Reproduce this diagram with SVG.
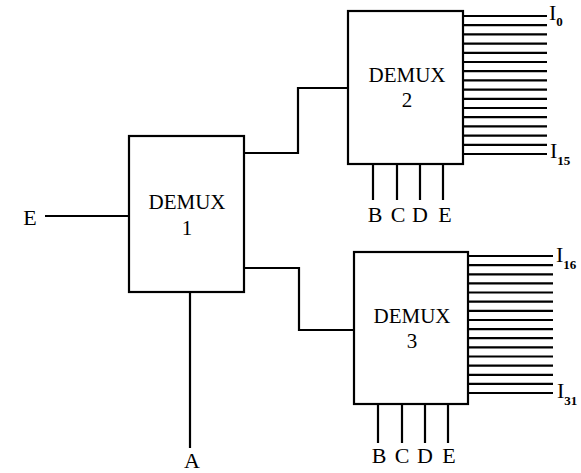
<svg xmlns="http://www.w3.org/2000/svg" width="581" height="473" viewBox="0 0 581 473">
<style>
.box{fill:#fff;stroke:#000;stroke-width:2.2}
.w{stroke:#000;stroke-width:2.2;fill:none}
.t{font-family:"Liberation Serif","DejaVu Serif",serif;font-size:21px;fill:#000;text-anchor:middle}
.p{font-family:"Liberation Serif","DejaVu Serif",serif;font-size:22px;fill:#000;text-anchor:middle}
.l{font-family:"Liberation Serif","DejaVu Serif",serif;font-size:22px;fill:#000}
.s{font-size:13px;font-weight:bold}
</style>
<rect width="581" height="473" fill="#fff"/>
<g id="connectors">
<path class="w" d="M45 216H129"/>
<path class="w" d="M190 292V448"/>
<path class="w" d="M244 153H298V88H348"/>
<path class="w" d="M244 268H299V330H354"/>
<path class="w" d="M463 16H547M463 25.2H547M463 34.4H547M463 43.6H547M463 52.8H547M463 62H547M463 71.2H547M463 80.4H547M463 89.6H547M463 98.8H547M463 108H547M463 117.2H547M463 126.4H547M463 135.6H547M463 144.8H547M463 154H547"/>
<path class="w" d="M468 256H553M468 265.1H553M468 274.3H553M468 283.4H553M468 292.5H553M468 301.7H553M468 310.8H553M468 320H553M468 329.1H553M468 338.2H553M468 347.4H553M468 356.5H553M468 365.6H553M468 374.8H553M468 383.9H553M468 393H553"/>
<path class="w" d="M373 164V200M397 164V200M420 164V200M443 164V200"/>
<path class="w" d="M378 404V443M402 404V443M425 404V443M448 404V443"/>
</g>
<g id="demux1">
<rect class="box" x="129" y="136" width="115" height="156"/>
<text class="t" x="187" y="209">DEMUX</text>
<text class="t" x="187" y="235">1</text>
</g>
<g id="demux2">
<rect class="box" x="348" y="11" width="115" height="153"/>
<text class="t" x="407" y="82">DEMUX</text>
<text class="t" x="407" y="107">2</text>
</g>
<g id="demux3">
<rect class="box" x="354" y="252" width="114" height="152"/>
<text class="t" x="412" y="323">DEMUX</text>
<text class="t" x="412" y="348">3</text>
</g>
<g id="labels">
<text class="p" x="30" y="225">E</text>
<text class="p" x="192" y="468">A</text>
<text class="p" x="375" y="222">B</text>
<text class="p" x="398" y="222">C</text>
<text class="p" x="420" y="222">D</text>
<text class="p" x="445" y="222">E</text>
<text class="p" x="379" y="463">B</text>
<text class="p" x="402" y="463">C</text>
<text class="p" x="425" y="463">D</text>
<text class="p" x="449" y="463">E</text>
<text class="l" x="549" y="20">I<tspan class="s" dy="6">0</tspan></text>
<text class="l" x="550" y="158">I<tspan class="s" dy="7">15</tspan></text>
<text class="l" x="556" y="262">I<tspan class="s" dy="7">16</tspan></text>
<text class="l" x="557" y="398">I<tspan class="s" dy="7">31</tspan></text>
</g>
</svg>
